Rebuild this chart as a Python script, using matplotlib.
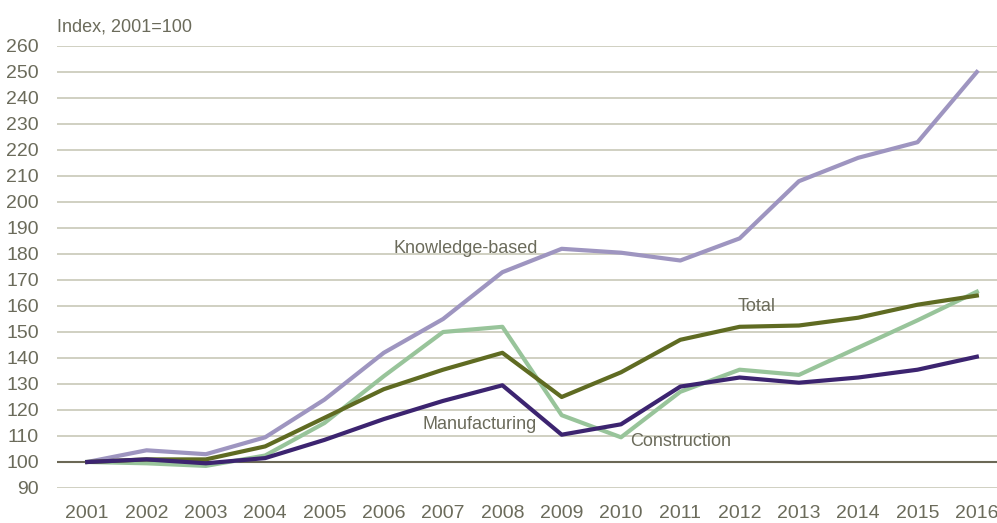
import matplotlib
matplotlib.use("Agg")
import matplotlib.pyplot as plt
from matplotlib import font_manager

years = list(range(2001, 2017))
knowledge = [100, 104.5, 103, 109.5, 124, 142, 155, 173, 182, 180.5, 177.5, 186, 208, 217, 223, 250]
total = [100, 101, 101, 106, 117, 128, 135.5, 142, 125, 134.5, 147, 152, 152.5, 155.5, 160.5, 164]
construction = [100, 99.5, 98.5, 102.5, 115, 133, 150, 152, 118, 109.5, 127, 135.5, 133.5, 144, 154.5, 165.5]
manufacturing = [100, 101, 99.5, 101.5, 108.5, 116.5, 123.5, 129.5, 110.5, 114.5, 129, 132.5, 130.5, 132.5, 135.5, 140.5]

names = [f.name for f in font_manager.fontManager.ttflist]
fam = "Liberation Sans Narrow" if "Liberation Sans Narrow" in names else "Liberation Sans"
plt.rcParams['font.family'] = [fam, 'DejaVu Sans']

txt = "#6b6b5b"
fig = plt.figure(figsize=(9.97, 5.23), dpi=100)
ax = fig.add_axes([57/997, 35/523, 940/997, 442/523])

for v in range(90, 261, 10):
    if v != 100:
        ax.axhline(v, color="#c8c8b8", lw=1.2, zorder=1)
ax.axhline(100, color="#6b6856", lw=1.5, zorder=2)

ax.plot(years, knowledge, color="#9e95c0", lw=3, zorder=3)
ax.plot(years, construction, color="#98c49a", lw=3, zorder=3)
ax.plot(years, total, color="#5f6b22", lw=3, zorder=4)
ax.plot(years, manufacturing, color="#3c2470", lw=3, zorder=5)

ax.text(2006.17, 182, "Knowledge-based", color=txt, fontsize=13, va="center", ha="left")
ax.text(2011.97, 159.8, "Total", color=txt, fontsize=13, va="center", ha="left")
ax.text(2006.65, 114.5, "Manufacturing", color=txt, fontsize=13, va="center", ha="left")
ax.text(2010.15, 108, "Construction", color=txt, fontsize=13, va="center", ha="left")

ax.set_xlim(2000.49, 2016.34)
ax.set_ylim(90, 260)
ax.set_xticks(years)
ax.set_yticks(range(90, 261, 10))
ax.tick_params(axis="both", length=0, labelsize=14, colors=txt)
ax.tick_params(axis="x", pad=12)
ax.tick_params(axis="y", pad=13)
for s in ax.spines.values():
    s.set_visible(False)

fig.text(57/997, 1 - 27/523, "Index, 2001=100", color=txt, fontsize=13, va="center", ha="left")

fig.savefig("out.png", dpi=100)
